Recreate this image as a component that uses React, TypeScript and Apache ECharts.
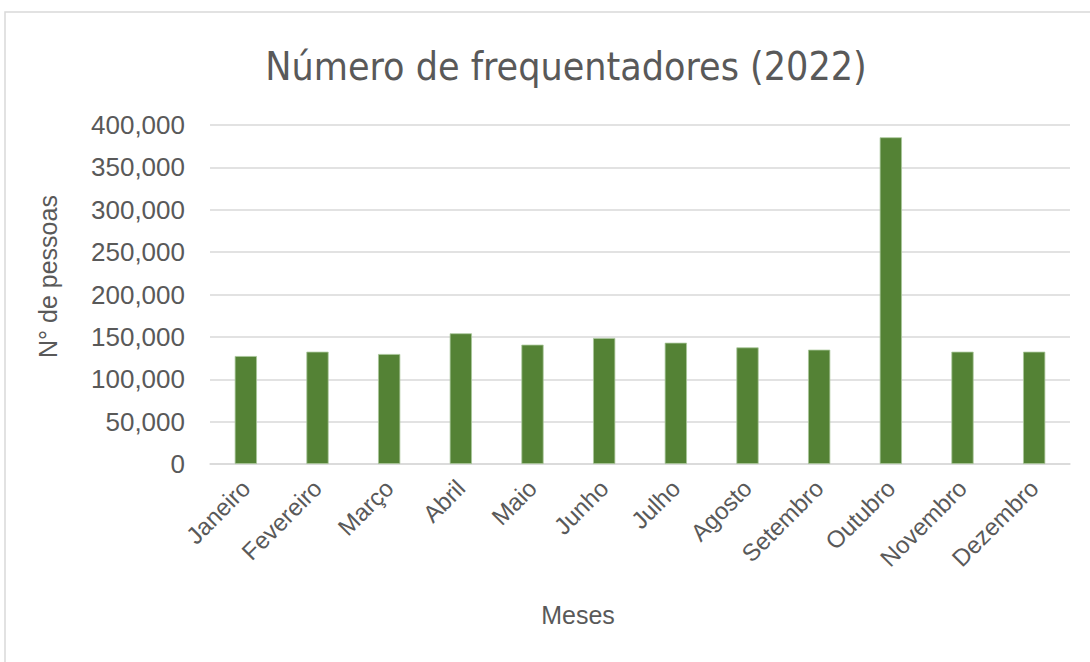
import React, { useEffect, useRef } from "react";
import * as echarts from "echarts";

const months = [
  "Janeiro", "Fevereiro", "Março", "Abril", "Maio", "Junho",
  "Julho", "Agosto", "Setembro", "Outubro", "Novembro", "Dezembro",
];
const visitors = [
  127400, 132500, 129800, 154200, 140800, 148700,
  143100, 137600, 134900, 385500, 132500, 132500,
];
const titleText = "Número de frequentadores (2022)";
const yAxisName = "N° de pessoas";
const xAxisName = "Meses";
const yMin = 0;
const yMax = 400000;
const yStep = 50000;

export default function App() {
  const ref = useRef<HTMLDivElement>(null);
  useEffect(() => {
    document.body.style.margin = "0";
    if (!ref.current) return;
    const chart = echarts.init(ref.current, null, { renderer: "svg" });
    const grey = "#595959";
    chart.setOption({
      animation: false,
      backgroundColor: "#ffffff",
      title: {
        text: titleText,
        left: 561,
        top: 42,
        textAlign: "center",
        textStyle: {
          fontFamily: "'Liberation Sans Narrow', 'DejaVu Sans Condensed', sans-serif",
          fontWeight: "normal",
          fontSize: 39,
          color: grey,
        },
      },
      graphic: [
        {
          type: "rect",
          shape: { x: 5, y: 12, width: 1200, height: 800 },
          style: { fill: "none", stroke: "#d9d9d9", lineWidth: 1.5 },
          silent: true,
        },
      ],
      grid: { left: 210, right: 20, top: 125, bottom: 198 },
      xAxis: {
        type: "category",
        data: months,
        name: xAxisName,
        nameLocation: "middle",
        nameGap: 138,
        nameTextStyle: {
          fontFamily: "'Liberation Sans', Arial, sans-serif",
          fontSize: 25,
          color: grey,
          padding: [0, 124, 0, 0],
        },
        axisLine: { show: true, lineStyle: { color: "#d9d9d9", width: 1.5 } },
        axisTick: { show: false },
        axisLabel: {
          rotate: 45,
          margin: 20,
          interval: 0,
          fontFamily: "'Liberation Sans', Arial, sans-serif",
          fontSize: 24,
          color: grey,
        },
      },
      yAxis: {
        type: "value",
        min: yMin,
        max: yMax,
        interval: yStep,
        name: yAxisName,
        nameLocation: "middle",
        nameGap: 150,
        nameTextStyle: {
          fontFamily: "'Liberation Sans', Arial, sans-serif",
          fontSize: 25,
          color: grey,
          padding: [0, 0, 0, 36],
        },
        axisLine: { show: false },
        axisTick: { show: false },
        splitLine: { lineStyle: { color: "#d9d9d9", width: 1.5 } },
        axisLabel: {
          margin: 25,
          fontFamily: "'Liberation Sans', Arial, sans-serif",
          fontSize: 26,
          color: grey,
          formatter: (v: number) => v.toLocaleString("en-US"),
        },
      },
      series: [
        {
          type: "bar",
          data: visitors,
          barWidth: "31%",
          itemStyle: { color: "#548235", borderColor: "#a9c79a", borderWidth: 0.8 },
        },
      ],
    });
    return () => chart.dispose();
  }, []);
  return <div ref={ref} style={{ width: 1090, height: 662 }} />;
}
